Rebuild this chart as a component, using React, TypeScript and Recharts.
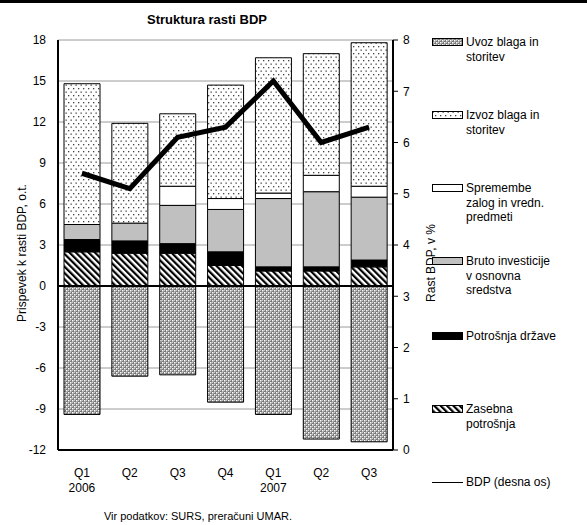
import { ComposedChart, Bar, Line, XAxis, YAxis, CartesianGrid, ReferenceLine } from "recharts"

const quarters = ["Q1", "Q2", "Q3", "Q4", "Q1", "Q2", "Q3"]
const years = ["2006", "", "", "", "2007", "", ""]

const zasebna = [2.5, 2.4, 2.4, 1.5, 1.1, 1.1, 1.4]
const drzava = [0.9, 0.9, 0.7, 1.0, 0.3, 0.3, 0.5]
const bruto = [1.1, 1.3, 2.8, 3.1, 5.0, 5.5, 4.6]
const zalogi = [0, 0, 1.4, 0.8, 0.4, 1.2, 0.8]
const izvoz = [10.3, 7.3, 5.3, 8.3, 9.9, 8.9, 10.5]
const uvoz = [-9.4, -6.6, -6.5, -8.5, -9.4, -11.2, -11.4]
const bdp = [5.4, 5.1, 6.1, 6.3, 7.2, 6.0, 6.3]

const leftTicks = [-12, -9, -6, -3, 0, 3, 6, 9, 12, 15, 18]
const rightTicks = [0, 1, 2, 3, 4, 5, 6, 7, 8]

const data = quarters.map((q, i) => ({
    key: i,
    q,
    year: years[i],
    zasebna: zasebna[i],
    drzava: drzava[i],
    bruto: bruto[i],
    zalogi: zalogi[i],
    izvoz: izvoz[i],
    uvoz: uvoz[i],
    bdp: bdp[i],
}))

const font = "'Liberation Sans', Arial, sans-serif"

const legendItems = [
    { fill: "url(#patUvoz)", lines: ["Uvoz blaga in", "storitev"], y: 43 },
    { fill: "url(#patIzvoz)", lines: ["Izvoz blaga in", "storitev"], y: 116 },
    { fill: "#ffffff", lines: ["Spremembe", "zalog in vredn.", "predmeti"], y: 189 },
    { fill: "#c0c0c0", lines: ["Bruto investicije", "v osnovna", "sredstva"], y: 262 },
    { fill: "#000000", lines: ["Potrošnja države"], y: 337 },
    { fill: "url(#patZasebna)", lines: ["Zasebna", "potrošnja"], y: 410 },
]

function XTick(props: any) {
    const { x, y, payload } = props
    const row = data[payload.value]
    return (
        <g transform={`translate(${x},${y})`}>
            <text textAnchor="middle" fontFamily={font} fontSize={12} fill="#000">
                <tspan x={0} dy={19}>{row.q}</tspan>
                {row.year ? <tspan x={0} dy={15}>{row.year}</tspan> : null}
            </text>
        </g>
    )
}

function Patterns() {
    return (
        <defs>
            <pattern id="patUvoz" width="4" height="4" patternUnits="userSpaceOnUse">
                <rect width="4" height="4" fill="#7a7a7a" />
                <rect x="0" y="0" width="1.5" height="1.5" fill="#ffffff" />
                <rect x="2" y="2" width="1.5" height="1.5" fill="#ffffff" />
                <rect x="2" y="0" width="1" height="1" fill="#c8c8c8" />
                <rect x="0" y="2" width="1" height="1" fill="#c8c8c8" />
            </pattern>
            <pattern id="patIzvoz" width="5" height="7" patternUnits="userSpaceOnUse">
                <rect width="5" height="7" fill="#ffffff" />
                <rect x="0.5" y="0.5" width="1.3" height="1.3" fill="#444" />
                <rect x="3" y="4" width="1.3" height="1.3" fill="#444" />
            </pattern>
            <pattern id="patZasebna" width="4.5" height="4.5" patternUnits="userSpaceOnUse" patternTransform="rotate(-45)">
                <rect width="4.5" height="4.5" fill="#ffffff" />
                <rect width="2.2" height="4.5" fill="#000000" />
            </pattern>
        </defs>
    )
}

export default function App() {
    return (
        <div style={{ position: "absolute", left: 0, top: 0, width: 587, height: 525, background: "#fff", fontFamily: font, color: "#000" }}>
            <div style={{ position: "absolute", left: 0, top: 0, width: 587, height: 3, background: "#000" }} />
            <div style={{ position: "absolute", left: 0, width: 414, top: 12, textAlign: "center", fontWeight: "bold", fontSize: 13 }}>
                Struktura rasti BDP
            </div>
            <ComposedChart
                width={587}
                height={525}
                data={data}
                stackOffset="sign"
                barSize={36}
                margin={{ top: 40, right: 164, bottom: 45, left: 0 }}
            >
                <Patterns />
                <CartesianGrid vertical={false} stroke="#9a9a9a" strokeWidth={1} yAxisId="left" />
                <XAxis
                    dataKey="key"
                    tick={<XTick />}
                    tickLine={false}
                    axisLine={{ stroke: "#000", strokeWidth: 2 }}
                    height={30}
                    interval={0}
                />
                <YAxis
                    yAxisId="left"
                    domain={[-12, 18]}
                    ticks={leftTicks}
                    width={58}
                    tickLine={false}
                    tickSize={0}
                    tickMargin={12}
                    axisLine={{ stroke: "#000", strokeWidth: 2 }}
                    tick={{ fontFamily: font, fontSize: 12, fill: "#000" }}
                    interval={0}
                />
                <YAxis
                    yAxisId="right"
                    orientation="right"
                    domain={[0, 8]}
                    ticks={rightTicks}
                    width={30}
                    tickSize={5}
                    tickMargin={5}
                    tickLine={{ stroke: "#000" }}
                    axisLine={{ stroke: "#000", strokeWidth: 2 }}
                    tick={{ fontFamily: font, fontSize: 12, fill: "#000", textAnchor: "start" }}
                    interval={0}
                />
                <Bar yAxisId="left" dataKey="zasebna" stackId="s" fill="url(#patZasebna)" stroke="#000" strokeWidth={1} isAnimationActive={false} />
                <Bar yAxisId="left" dataKey="drzava" stackId="s" fill="#000000" stroke="#000" strokeWidth={1} isAnimationActive={false} />
                <Bar yAxisId="left" dataKey="bruto" stackId="s" fill="#c0c0c0" stroke="#000" strokeWidth={1} isAnimationActive={false} />
                <Bar yAxisId="left" dataKey="zalogi" stackId="s" fill="#ffffff" stroke="#000" strokeWidth={1} isAnimationActive={false} />
                <Bar yAxisId="left" dataKey="izvoz" stackId="s" fill="url(#patIzvoz)" stroke="#000" strokeWidth={1} isAnimationActive={false} />
                <Bar yAxisId="left" dataKey="uvoz" stackId="s" fill="url(#patUvoz)" stroke="#000" strokeWidth={1} isAnimationActive={false} />
                <ReferenceLine yAxisId="left" y={0} stroke="#000" strokeWidth={2} />
                <Line yAxisId="right" dataKey="bdp" type="linear" stroke="#000" strokeWidth={5} dot={false} isAnimationActive={false} />
            </ComposedChart>
            <div style={{ position: "absolute", left: 22, top: 253, width: 0, height: 0 }}>
                <div style={{ position: "absolute", transform: "translate(-50%, -50%) rotate(-90deg)", whiteSpace: "nowrap", fontSize: 12 }}>
                    Prispevek k rasti BDP, o.t.
                </div>
            </div>
            <div style={{ position: "absolute", left: 431, top: 263, width: 0, height: 0 }}>
                <div style={{ position: "absolute", transform: "translate(-50%, -50%) rotate(-90deg)", whiteSpace: "nowrap", fontSize: 12 }}>
                    Rast BDP, v %
                </div>
            </div>
            {legendItems.map((it) => (
                <div key={it.lines[0]} style={{ position: "absolute", left: 432, top: it.y - 8 }}>
                    <svg width={32} height={10} style={{ position: "absolute", left: 0, top: 3 }}>
                        <rect x={0.5} y={0.5} width={30} height={7} fill={it.fill} stroke="#000" strokeWidth={1} />
                    </svg>
                    <div style={{ position: "absolute", left: 34, top: 0, fontSize: 12, lineHeight: "14.5px", whiteSpace: "nowrap" }}>
                        {it.lines.map((l) => (
                            <div key={l}>{l}</div>
                        ))}
                    </div>
                </div>
            ))}
            <div style={{ position: "absolute", left: 432, top: 475 }}>
                <div style={{ position: "absolute", left: 0, top: 7, width: 31, height: 1, background: "#000" }} />
                <div style={{ position: "absolute", left: 34, top: 0, fontSize: 12, lineHeight: "14.5px", whiteSpace: "nowrap" }}>
                    BDP (desna os)
                </div>
            </div>
            <div style={{ position: "absolute", left: 0, width: 396, top: 510, textAlign: "center", fontSize: 11 }}>
                Vir podatkov: SURS, preračuni UMAR.
            </div>
        </div>
    )
}
